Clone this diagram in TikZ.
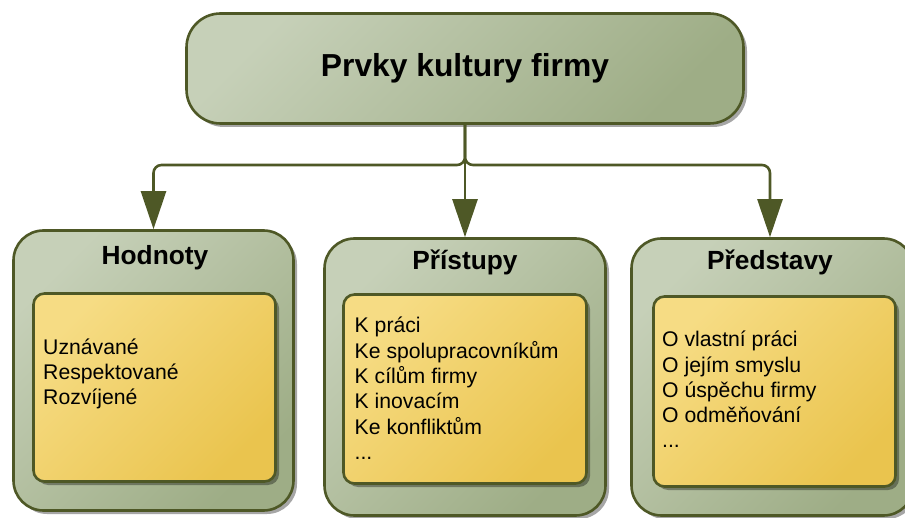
\documentclass[tikz,border=0pt]{standalone}
\usepackage{fontspec}
\setmainfont{Liberation Sans}
\usetikzlibrary{arrows.meta,shadows}

\definecolor{rim}{RGB}{78,88,38}
\definecolor{sageL}{RGB}{198,208,184}
\definecolor{sageD}{RGB}{158,173,134}
\definecolor{goldL}{RGB}{246,220,132}
\definecolor{goldD}{RGB}{234,196,78}

\tikzset{
  panel/.style={rectangle, rounded corners=30pt, draw=rim, line width=2.6pt,
    top color=sageL, bottom color=sageD, shading angle=45, inner sep=0pt,
    drop shadow={shadow xshift=3.5pt, shadow yshift=-3.5pt, fill=black, opacity=.35}},
  card/.style={rectangle, rounded corners=11pt, draw=rim, line width=2.6pt,
    top color=goldL, bottom color=goldD, shading angle=45, inner sep=0pt,
    drop shadow={shadow xshift=3.5pt, shadow yshift=-3.5pt, fill=black, opacity=.35}},
  heading/.style={font=\fontsize{26.3}{30}\selectfont\bfseries, anchor=base, inner sep=0pt},
  items/.style={font=\fontsize{21.2}{25.3}\selectfont, align=left, anchor=west, inner sep=0pt},
  link/.style={draw=rim, line width=2.6pt, rounded corners=8pt,
    -{Triangle[length=38pt,width=25pt]}},
}

\begin{document}
\begin{tikzpicture}[x=1pt,y=-1pt]
\useasboundingbox (0,0) rectangle (905,518);
\clip (0,0) rectangle (905,518);

% root box
\node[panel, rounded corners=34pt, minimum width=557pt, minimum height=110pt] (root) at (465,68.5) {};
\node[heading, font=\fontsize{31.8}{36}\selectfont\bfseries] (roottitle) at (465,77) {Prvky kultury firmy};

% three category panels
\node[panel, minimum width=280pt, minimum height=280pt] (values) at (153.5,370.5) {};
\node[panel, minimum width=281pt, minimum height=277pt] (attitudes) at (465,377) {};
\node[panel, minimum width=282pt, minimum height=277pt] (ideas) at (772.5,377) {};

\node[heading] (valuestitle) at (155,265) {Hodnoty};
\node[heading] (attitudestitle) at (465,270) {Přístupy};
\node[heading] (ideastitle) at (770,270) {Představy};

% inner cards
\node[card, minimum width=242pt, minimum height=188pt] (valuescard) at (154.5,387.5) {};
\node[card, minimum width=243pt, minimum height=189pt] (attitudescard) at (465,389) {};
\node[card, minimum width=242pt, minimum height=190pt] (ideascard) at (774.5,391.5) {};

\node[items] (valueslist) at (43,374.6) {\strut Uznávané\\Respektované\\Rozvíjené\strut};
\node[items] (attitudeslist) at (354.5,391) {\strut K práci\\Ke spolupracovníkům\\K cílům firmy\\K inovacím\\Ke konfliktům\\...\strut};
\node[items] (ideaslist) at (662,392.3) {\strut O vlastní práci\\O jejím smyslu\\O úspěchu firmy\\O odměňování\\...\strut};

% connectors
\coordinate (fork) at (465,165);
\draw[link] (root.south) -- (fork) -| (values.north);
\draw[link] (root.south) -- (attitudes.north);
\draw[link] (root.south) -- (fork) -| ([xshift=-2.5pt]ideas.north);
\end{tikzpicture}
\end{document}
